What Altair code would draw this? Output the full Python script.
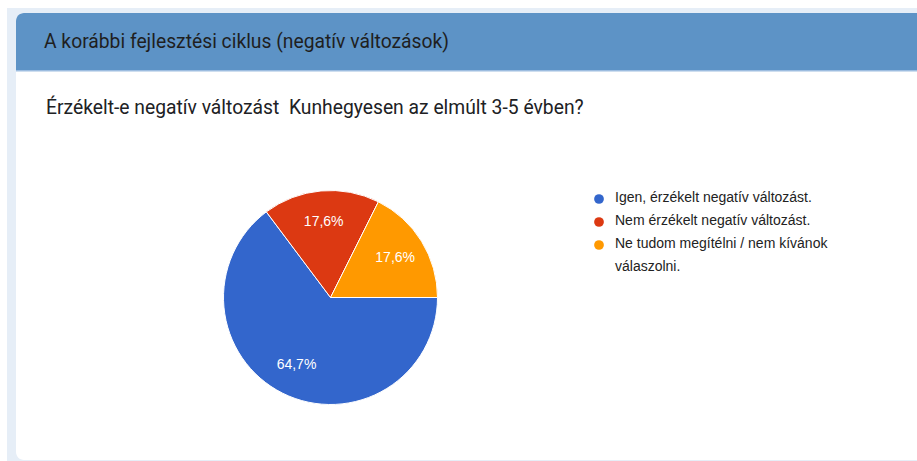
import math
import altair as alt
import pandas as pd

# Survey answers and their shares (percent)
categories = [
    "Igen, érzékelt negatív változást.",
    "Nem érzékelt negatív változást.",
    "Ne tudom megítélni / nem kívánok válaszolni.",
]
legend_labels = [
    "Igen, érzékelt negatív változást.",
    "Nem érzékelt negatív változást.",
    "Ne tudom megítélni / nem kívánok\nválaszolni.",
]
shares = [64.7, 17.6, 17.6]
share_labels = ["64,7%", "17,6%", "17,6%"]
colors = ["#3366cc", "#dc3912", "#ff9900"]

section_title = "A korábbi fejlesztési ciklus (negatív változások)"
question = "Érzékelt-e negatív változást\u00a0 Kunhegyesen az elmúlt 3-5 évben?"

W, H = 917, 461
CX, CY, R = 330.5, 297.5, 107

pie_df = pd.DataFrame({
    "category": categories,
    "share": shares,
    "label": share_labels,
    "order": list(range(len(categories))),
})
legend_df = pd.DataFrame({"category": categories, "text": legend_labels})

color_scale = alt.Scale(domain=categories, range=colors)
theta_scale = alt.Scale(range=[math.pi / 2, math.pi / 2 + 2 * math.pi])
one = pd.DataFrame({"k": [0]})

# Page / card decoration
page_bg = alt.Chart(one).mark_rect(color="#e6eef7").encode(
    x=alt.value(7), x2=alt.value(W + 20), y=alt.value(8), y2=alt.value(H + 20)
)
card = alt.Chart(one).mark_rect(color="#ffffff", cornerRadius=8).encode(
    x=alt.value(16), x2=alt.value(W + 20), y=alt.value(13), y2=alt.value(H - 1)
)
header = alt.Chart(one).mark_rect(
    color="#5d93c6", cornerRadiusTopLeft=8
).encode(x=alt.value(16), x2=alt.value(W + 20), y=alt.value(13), y2=alt.value(70))
header_line = alt.Chart(one).mark_rect(color="#9dbde0").encode(
    x=alt.value(16), x2=alt.value(W + 20), y=alt.value(70), y2=alt.value(71.5)
)

header_text = alt.Chart(pd.DataFrame({"t": [section_title]})).mark_text(
    align="left", baseline="middle", font="Roboto", fontSize=19.3, color="#1f1f1f"
).encode(x=alt.value(44), y=alt.value(42), text="t:N")

question_text = alt.Chart(pd.DataFrame({"t": [question]})).mark_text(
    align="left", baseline="middle", font="Roboto", fontSize=19.3, color="#202124"
).encode(x=alt.value(46), y=alt.value(108), text="t:N")

# Pie
pie = alt.Chart(pie_df).mark_arc(radius=R, stroke="#ffffff", strokeWidth=1).encode(
    theta=alt.Theta("share:Q", stack=True, scale=theta_scale),
    order=alt.Order("order:Q"),
    x=alt.value(CX), y=alt.value(CY),
    color=alt.Color("category:N", scale=color_scale, legend=None),
)

# Slice labels placed at the middle angle of each slice
labels = alt.Chart(pie_df).transform_window(
    cum="sum(share)", sort=[alt.SortField("order")], frame=[None, 0]
).transform_calculate(
    mid="datum.cum - datum.share / 2"
).mark_text(
    radius=76, font="Liberation Sans", fontSize=14, color="#ffffff",
    align="center", baseline="middle",
).encode(
    theta=alt.Theta("mid:Q", stack=None, scale=theta_scale),
    x=alt.value(CX), y=alt.value(CY), text="label:N",
)

# Legend
legend_y = alt.Y("category:N", scale=alt.Scale(domain=categories, range=[199, 245], type="point", padding=0), axis=None)
legend_dots = alt.Chart(legend_df).mark_point(
    shape="circle", filled=True, size=95, opacity=1
).encode(
    x=alt.value(599), y=legend_y,
    color=alt.Color("category:N", scale=color_scale, legend=None),
)
legend_text = alt.Chart(legend_df).mark_text(
    align="left", baseline="top", dy=-8, font="Liberation Sans", fontSize=14,
    color="#222222", lineBreak="\n", lineHeight=23
).encode(x=alt.value(615), y=legend_y, text="text:N")

chart = alt.layer(
    page_bg, card, header, header_line, header_text, question_text,
    pie, labels, legend_dots, legend_text,
).properties(
    width=W, height=H, autosize=alt.AutoSizeParams(type="none"), padding=0,
    background="#ffffff",
).configure_view(stroke=None)

chart.save("out.html", embed_options={"renderer": "svg", "actions": False})
